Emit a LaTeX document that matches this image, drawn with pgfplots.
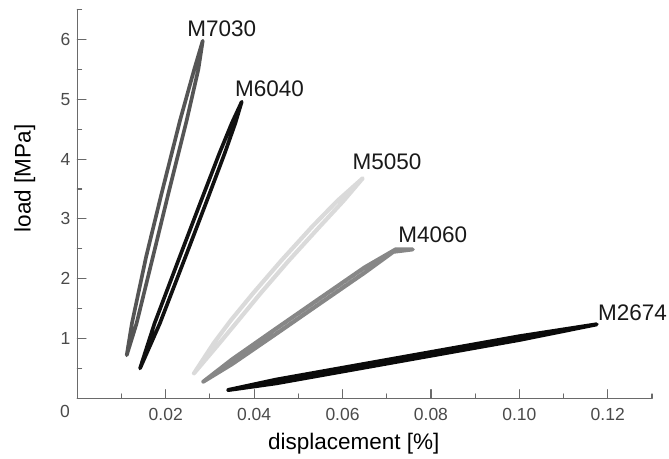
\documentclass[border=0pt]{standalone}
\usepackage{fontspec}
\setmainfont{Liberation Sans}
\usepackage{pgfplots}
\pgfplotsset{compat=1.18}
\definecolor{cA}{HTML}{555555}
\definecolor{cB}{HTML}{111111}
\definecolor{cC}{HTML}{DADADA}
\definecolor{cD}{HTML}{878787}
\definecolor{cE}{HTML}{0A0A0A}
\definecolor{axc}{HTML}{6A6A6A}
\definecolor{tkc}{HTML}{4A4A4A}
\begin{document}
\begin{tikzpicture}
\useasboundingbox (-46.38pt,-36.42pt) rectangle (355.02pt,238.98pt);
\begin{axis}[
  scale only axis,
  width=344.8pt, height=233.2pt,
  xmin=0, xmax=0.13, ymin=0, ymax=6.5,
  axis x line*=bottom, axis y line*=left,
  axis line style={-, draw=axc, line width=0.8pt},
  xtick={0.02,0.04,0.06,0.08,0.10,0.12},
  minor xtick={0.01,0.03,0.05,0.07,0.09,0.11,0.13},
  ytick={1,2,3,4,5,6},
  minor ytick={0.5,1.5,2.5,3.5,4.5,5.5,6.5},
  xtick pos=bottom, ytick pos=left,
  tick align=inside,
  major tick length=5.2pt, minor tick length=2.6pt,
  tick style={draw=axc, line width=0.7pt},
  scaled x ticks=false,
  xticklabel style={/pgf/number format/fixed, /pgf/number format/precision=2, /pgf/number format/fixed zerofill, /pgf/number format/assume math mode=true, yshift=-2.3pt},
  yticklabel style={/pgf/number format/assume math mode=true, xshift=-0.6pt},
  tick label style={font=\fontsize{10.5}{12}\selectfont, text=tkc},
  xlabel={displacement [\%]},
  ylabel={load [MPa]},
  label style={font=\fontsize{13.5}{16}\selectfont, text=black},
  xlabel style={at={(axis description cs:0.481,-0.1177)}, anchor=center},
  ylabel style={at={(axis description cs:-0.0915,0.566)}, anchor=center},
  clip=false,
  line join=round, line cap=round,
]
% M7030
\addplot[cA, line width=2.2pt] coordinates {
(0.01118,0.72) (0.01340,1.25) (0.01712,2.37) (0.02052,3.40) (0.02475,4.65) (0.02738,5.50) (0.02838,5.98)
(0.02645,5.50) (0.02325,4.65) (0.01898,3.40) (0.01558,2.37) (0.01235,1.25) (0.01118,0.72)};
% M6040
\addplot[cB, line width=2.2pt] coordinates {
(0.01419,0.50) (0.01866,1.25) (0.02449,2.37) (0.02929,3.30) (0.03336,4.10) (0.03574,4.60) (0.03720,4.96)
(0.03494,4.60) (0.03216,4.10) (0.02799,3.30) (0.02319,2.37) (0.01746,1.25) (0.01419,0.50)};
% M5050
\addplot[cC, line width=2.5pt] coordinates {
(0.02640,0.418) (0.03214,0.92) (0.03639,1.30) (0.04146,1.756) (0.04781,2.30) (0.05482,2.87) (0.06020,3.30) (0.06457,3.68)
(0.05880,3.30) (0.05312,2.87) (0.04611,2.30) (0.03976,1.756) (0.03469,1.30) (0.03084,0.92) (0.02640,0.418)};
% M4060
\addplot[cD, line width=2.4pt] coordinates {
(0.0285,0.278) (0.035,0.571) (0.045,1.078) (0.055,1.59) (0.065,2.10) (0.0715,2.45) (0.0759,2.49)
(0.0720,2.49) (0.065,2.19) (0.055,1.68) (0.045,1.168) (0.035,0.651) (0.0285,0.278)};
% M2674
\addplot[cE, line width=2.4pt] coordinates {
(0.03417,0.139) (0.045,0.2517) (0.060,0.4494) (0.080,0.713) (0.100,0.9766) (0.1175,1.237)
(0.100,1.0366) (0.080,0.773) (0.060,0.5094) (0.045,0.3117) (0.03417,0.139)};
\begin{scope}[every node/.style={font=\fontsize{13.5}{16}\selectfont, text=black!90, anchor=center, inner sep=0pt}]
\node at (axis cs:0.03267,6.187) {M7030};
\node at (axis cs:0.04348,5.176) {M6040};
\node at (axis cs:0.07007,3.951) {M5050};
\node at (axis cs:0.08043,2.731) {M4060};
\node at (axis cs:0.1256,1.43) {M2674};
\end{scope}
\node[font=\fontsize{10.5}{12}\selectfont, text=tkc, anchor=center, inner sep=0pt] at (axis cs:0,0) [xshift=-7.4pt, yshift=-8pt] {0};
\end{axis}
\end{tikzpicture}
\end{document}
